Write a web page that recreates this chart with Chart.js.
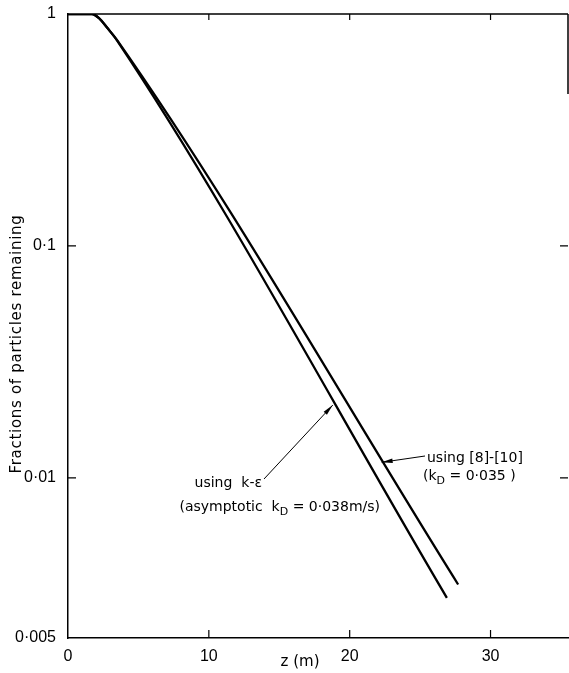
<!DOCTYPE html>
<html>
<head>
<meta charset="utf-8">
<script src="https://cdn.jsdelivr.net/npm/chart.js@4.4.1/dist/chart.umd.min.js"></script>
<style>
  html, body { margin: 0; padding: 0; background: #fff; }
  #wrap { width: 569px; height: 673px; }
</style>
</head>
<body>
<div id="wrap"><canvas id="fractionChart" width="569" height="673"></canvas></div>
<script>
// values
const zKe = [0, 1.7, 2.2, 2.8, 3.5, 26.9];
const fracKe = [1, 1, 0.96, 0.87, 0.766, 0.00304];
const zRef = [0, 1.7, 2.2, 2.8, 3.5, 27.7];
const fracRef = [1, 1, 0.96, 0.87, 0.77, 0.00347];

const xTicks = [0, 10, 20, 30];
const yMin = 0.00204;
const yTickValues = [1, 0.1, 0.01, yMin];
const yTickLabels = ["1", "0\u00b71", "0\u00b701", "0\u00b7005"];

const FONT = "DejaVu Sans";
const TICK_FONT = "Liberation Sans";

function toXY(xs, ys) {
    return xs.map((x, i) => ({x: x, y: ys[i]}));
}

function arrow(ctx, x0, y0, x1, y1) {
    const a = Math.atan2(y1 - y0, x1 - x0);
    const len = 11, half = 2.2;
    ctx.beginPath();
    ctx.moveTo(x0, y0);
    ctx.lineTo(x1, y1);
    ctx.stroke();
    ctx.beginPath();
    ctx.moveTo(x1, y1);
    ctx.lineTo(x1 - len * Math.cos(a) + half * Math.sin(a), y1 - len * Math.sin(a) - half * Math.cos(a));
    ctx.lineTo(x1 - len * Math.cos(a) - half * Math.sin(a), y1 - len * Math.sin(a) + half * Math.cos(a));
    ctx.closePath();
    ctx.fill();
}

// k_D style text with a subscript D, right or left anchored
function kdText(ctx, parts, x, y, alignRight) {
    let w = 0;
    parts.forEach(p => {
        ctx.font = p.sub ? "11px " + FONT : "14px " + FONT;
        w += ctx.measureText(p.t).width;
    });
    let cx = alignRight ? x - w : x;
    parts.forEach(p => {
        ctx.font = p.sub ? "11px " + FONT : "14px " + FONT;
        ctx.fillText(p.t, cx, p.sub ? y + 4 : y);
        cx += ctx.measureText(p.t).width;
    });
}

const frame = {
    id: "frame",
    afterDraw(chart) {
        const ctx = chart.ctx;
        const a = chart.chartArea;
        const xs = chart.scales.x, ys = chart.scales.y;
        ctx.save();
        ctx.strokeStyle = "#000";
        ctx.fillStyle = "#000";
        ctx.lineWidth = 1.5;
        // top border and short right border
        ctx.beginPath();
        ctx.moveTo(a.left, a.top);
        ctx.lineTo(a.right, a.top);
        ctx.moveTo(a.right, a.top);
        ctx.lineTo(a.right, a.top + 80);
        ctx.stroke();
        // inward ticks
        ctx.lineWidth = 1.2;
        ctx.beginPath();
        xTicks.slice(1).forEach(v => {
            const px = xs.getPixelForValue(v);
            ctx.moveTo(px, a.bottom);
            ctx.lineTo(px, a.bottom - 8);
            ctx.moveTo(px, a.top);
            ctx.lineTo(px, a.top + 6);
        });
        [0.1, 0.01].forEach(v => {
            const py = ys.getPixelForValue(v);
            ctx.moveTo(a.left, py);
            ctx.lineTo(a.left + 8, py);
            ctx.moveTo(a.right, py);
            ctx.lineTo(a.right - 8, py);
        });
        ctx.stroke();

        // axis titles
        ctx.save();
        ctx.translate(17, 344);
        ctx.rotate(-Math.PI / 2);
        ctx.font = "15px " + FONT;
        ctx.letterSpacing = "0.7px";
        ctx.textAlign = "center";
        ctx.textBaseline = "middle";
        ctx.fillText("Fractions of particles remaining", 0, 0);
        ctx.restore();
        ctx.font = "15px " + FONT;
        ctx.textAlign = "center";
        ctx.textBaseline = "middle";
        ctx.fillText("z (m)", 300, 662);

        // annotations
        ctx.textBaseline = "alphabetic";
        ctx.lineWidth = 1;
        ctx.font = "14px " + FONT;
        ctx.textAlign = "right";
        ctx.fillText("using  k-\u03b5", 262, 487);
        ctx.textAlign = "left";
        kdText(ctx, [{t: "(asymptotic  k"}, {t: "D", sub: true}, {t: " = 0\u00b7038m/s)"}], 380, 511, true);
        arrow(ctx, 264, 479, xs.getPixelForValue(18.8), ys.getPixelForValue(0.0206));

        ctx.font = "14px " + FONT;
        ctx.fillText("using [8]-[10]", 427, 462);
        kdText(ctx, [{t: "(k"}, {t: "D", sub: true}, {t: " = 0\u00b7035 )"}], 423, 480, false);
        arrow(ctx, 425, 456, xs.getPixelForValue(22.27), ys.getPixelForValue(0.01167));
        ctx.restore();
    }
};

new Chart(document.getElementById("fractionChart"), {
    type: "line",
    data: {
        datasets: [
            {label: "using k-\u03b5", data: toXY(zKe, fracKe)},
            {label: "using [8]-[10]", data: toXY(zRef, fracRef)}
        ]
    },
    options: {
        responsive: false,
        animation: false,
        devicePixelRatio: 1,
        layout: {padding: {top: 14, right: 1, left: 0, bottom: 0}},
        elements: {
            line: {borderColor: "#000", borderWidth: 2.3, cubicInterpolationMode: "monotone", fill: false},
            point: {radius: 0}
        },
        plugins: {legend: {display: false}, tooltip: {enabled: false}},
        scales: {
            x: {
                type: "linear",
                min: 0,
                max: 35.5,
                afterBuildTicks: s => { s.ticks = xTicks.map(v => ({value: v})); },
                afterFit: s => { s.height = 35; },
                ticks: {color: "#000", font: {family: TICK_FONT, size: 16}, padding: 1, maxRotation: 0},
                grid: {display: false},
                border: {color: "#000", width: 1.5}
            },
            y: {
                type: "logarithmic",
                min: yMin,
                max: 1,
                afterBuildTicks: s => { s.ticks = yTickValues.map(v => ({value: v})); },
                afterFit: s => { s.width = 68; },
                ticks: {
                    color: "#000",
                    font: {family: TICK_FONT, size: 16},
                    padding: 4,
                    callback: (v, i) => yTickLabels[i]
                },
                grid: {display: false},
                border: {color: "#000", width: 1.5}
            }
        }
    },
    plugins: [frame]
});
</script>
</body>
</html>
